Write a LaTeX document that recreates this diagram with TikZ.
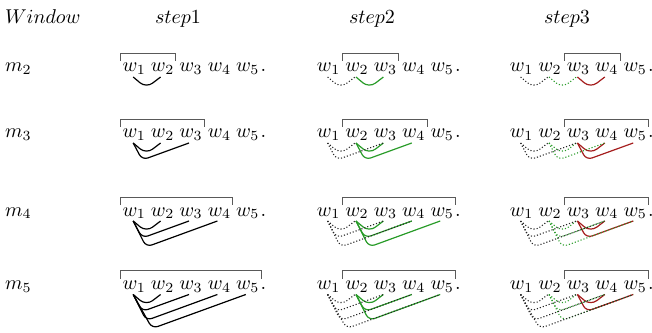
\documentclass[tikz,border=0pt]{standalone}
\usetikzlibrary{calc}
\definecolor{depgreen}{RGB}{40,155,40}
\definecolor{depred}{RGB}{165,30,30}
\tikzset{
  word/.style={inner sep=0pt, outer sep=0pt, anchor=base},
  bracketline/.style={draw=black!65, line width=0.45pt},
  solidblack/.style={draw=black, line width=0.6pt},
  solidgreen/.style={draw=depgreen, line width=0.6pt},
  solidred/.style={draw=depred, line width=0.6pt},
  dotblack/.style={draw=black!85, densely dotted, line width=0.55pt},
  dotgreen/.style={draw=depgreen, densely dotted, line width=0.55pt},
}
\newcommand\deparc[4]{%
  \pgfmathtruncatemacro\dd{#4-#3}%
  \pgfmathsetmacro\cx{{0,6.5,4.5,6.5,9.5}[\dd]}%
  \pgfmathsetmacro\cy{{0,5.5,8.5,13,17}[\dd]}%
  \pgfmathsetmacro\rc{{0,4,3,3,3}[\dd]}%
  \draw[#1, rounded corners=\rc pt] ($(#2w#3.base)+(-0.5pt,-2.5pt)$) -- ++(\cx pt,-\cy pt) -- ($(#2w#4.base)+(-1pt,-2.5pt)$);%
}
\newcommand\winbracket[2]{%
  \draw[bracketline] ($(#1.base west)+(-1.3pt,5.5pt)$) -- ($(#1.base west)+(-1.3pt,9.3pt)$) -- ($(#2.base east)+(0.8pt,9.3pt)$) -- ($(#2.base east)+(0.8pt,5.5pt)$);%
}
\begin{document}
\begin{tikzpicture}[x=1pt,y=1pt]
\useasboundingbox (0,0) rectangle (326,166);
\node[word, anchor=base west] (hwin) at (2.5,154) {$Window$};
\node[word] (hs1) at (89,154) {$step1$};
\node[word] (hs2) at (186,154) {$step2$};
\node[word] (hs3) at (283.5,154) {$step3$};
\foreach \m/\y in {2/130,3/97,4/58,5/21.25} {
  \node[word, anchor=base west] (lab\m) at (2.5,\y) {$m_{\m}$};
  \foreach \c/\x in {1/67.1,2/164.3,3/260.8} {
    \foreach \i in {1,...,5} {
      \node[word] (r\m c\c w\i) at ({\x+(\i-1)*14.2},\y) {$w_{\i}$};
    }
    \node[word, anchor=base west] (r\m c\c p) at ($(r\m c\c w5.base east)+(0.6pt,0)$) {.};
  }
  \pgfmathtruncatemacro\eb{min(\m+1,5)}
  \pgfmathtruncatemacro\ec{min(\m+2,5)}
  \winbracket{r\m c1w1}{r\m c1w\m}
  \winbracket{r\m c2w2}{r\m c2w\eb}
  \winbracket{r\m c3w3}{r\m c3w\ec}
  % step 1
  \foreach \j in {2,...,\m} {\deparc{solidblack}{r\m c1}{1}{\j}}
  % step 2
  \foreach \j in {3,...,\eb} {\deparc{solidgreen}{r\m c2}{2}{\j}}
  \foreach \j in {2,...,\m} {\deparc{dotblack}{r\m c2}{1}{\j}}
  % step 3
  \foreach \j in {4,...,\ec} {\deparc{solidred}{r\m c3}{3}{\j}}
  \foreach \j in {3,...,\eb} {\deparc{dotgreen}{r\m c3}{2}{\j}}
  \foreach \j in {2,...,\m} {\deparc{dotblack}{r\m c3}{1}{\j}}
}
\end{tikzpicture}
\end{document}
